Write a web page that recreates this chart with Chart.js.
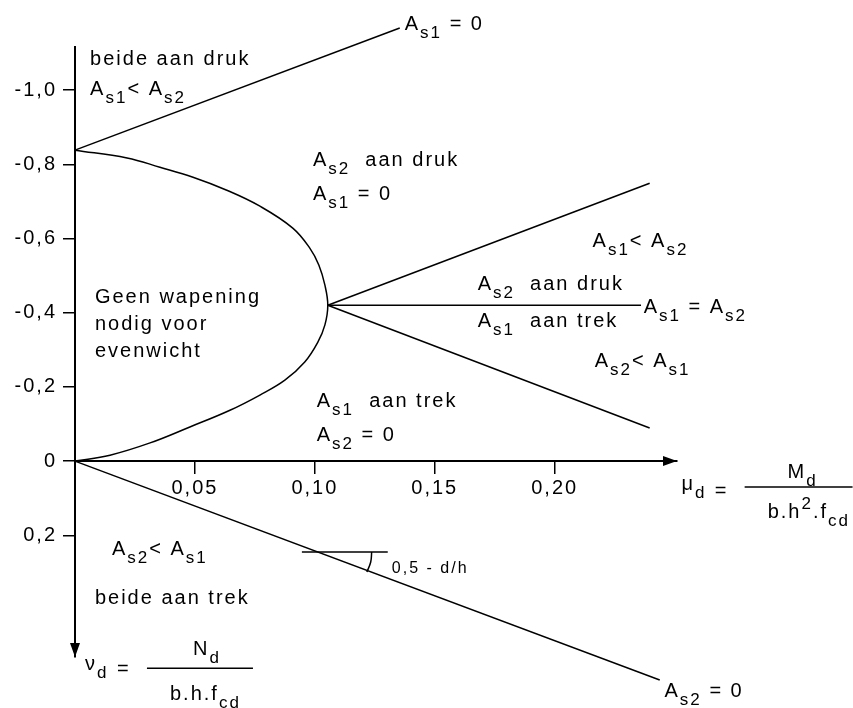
<!DOCTYPE html>
<html>
<head>
<meta charset="utf-8">
<script src="https://cdn.jsdelivr.net/npm/chart.js@4.4.1/dist/chart.umd.min.js"></script>
<style>
  body { margin: 0; background: #fff; }
  canvas { display: block; }
</style>
</head>
<body>
<canvas id="myChart" width="853" height="708"></canvas>
<script>
// mu_d horizontaal, nu_d verticaal (druk negatief, naar boven)
const xTicks = [0.05, 0.10, 0.15, 0.20];
const yTicks = [-1.0, -0.8, -0.6, -0.4, -0.2, 0, 0.2];

// grens van het gebied "geen wapening nodig"
const curveMu = [0, 0.0146, 0.0313, 0.0479, 0.0646, 0.0771, 0.0875, 0.0958, 0.1013, 0.1042, 0.1054,
  0.1042, 0.1017, 0.0979, 0.0908, 0.0771, 0.0633, 0.0492, 0.0354, 0.0217, 0];
const curveNu = [0, -0.016, -0.049, -0.092, -0.137, -0.178, -0.218, -0.267, -0.321, -0.367, -0.42,
  -0.474, -0.528, -0.574, -0.628, -0.687, -0.730, -0.765, -0.792, -0.817, -0.838];

// rechte grenslijnen
const as1ZeroMu = [0, 0.1354];
const as1ZeroNu = [-0.838, -1.167];
const upperMu = [0.1054, 0.2396];
const upperNu = [-0.42, -0.749];
const equalMu = [0.1054, 0.236];
const equalNu = [-0.42, -0.42];
const lowerMu = [0.1054, 0.2396];
const lowerNu = [-0.42, -0.089];
const as2ZeroMu = [0, 0.2438];
const as2ZeroNu = [0, 0.590];

// hellingsdriehoekje 0,5 - d/h
const slopeMu = [0.0946, 0.1304];
const slopeNu = [0.245, 0.245];
const arcMu = [0.1237, 0.1233, 0.1217];
const arcNu = [0.245, 0.272, 0.299];

const FONT = '"Liberation Sans", Arial, sans-serif';

function toPoints(mu, nu) {
  return mu.map((m, i) => ({ x: m, y: nu[i] }));
}

function line(mu, nu, tension) {
  return {
    data: toPoints(mu, nu),
    showLine: true,
    borderColor: "#000",
    borderWidth: 1.5,
    pointRadius: 0,
    tension: tension || 0,
    clip: false,
  };
}

function fmt(v, d) {
  if (v === 0) return "0";
  return v.toFixed(d).replace(".", ",");
}

const As = (n) => [["A"], ["s" + n, "sub"]];

const notes = [
  { mu: 0.0063, nu: -1.067, parts: [["beide aan druk"]] },
  { mu: 0.0063, nu: -0.987, parts: [...As(1), ["< A"], ["s2", "sub"]] },
  { mu: 0.1375, nu: -1.162, parts: [...As(1), [" = 0"]] },
  { mu: 0.0992, nu: -0.795, parts: [...As(2), ["  aan druk"]] },
  { mu: 0.0992, nu: -0.703, parts: [...As(1), [" = 0"]] },
  { mu: 0.2158, nu: -0.577, parts: [...As(1), ["< A"], ["s2", "sub"]] },
  { mu: 0.1679, nu: -0.461, parts: [...As(2), ["  aan druk"]] },
  { mu: 0.1679, nu: -0.361, parts: [...As(1), ["  aan trek"]] },
  { mu: 0.2371, nu: -0.399, parts: [...As(1), [" = A"], ["s2", "sub"]] },
  { mu: 0.2167, nu: -0.253, parts: [...As(2), ["< A"], ["s1", "sub"]] },
  { mu: 0.0083, nu: -0.426, parts: [["Geen wapening"]] },
  { mu: 0.0083, nu: -0.353, parts: [["nodig voor"]] },
  { mu: 0.0083, nu: -0.280, parts: [["evenwicht"]] },
  { mu: 0.1008, nu: -0.146, parts: [...As(1), ["  aan trek"]] },
  { mu: 0.1008, nu: -0.054, parts: [...As(2), [" = 0"]] },
  { mu: 0.0154, nu: 0.253, parts: [...As(2), ["< A"], ["s1", "sub"]] },
  { mu: 0.0083, nu: 0.385, parts: [["beide aan trek"]] },
  { mu: 0.2458, nu: 0.636, parts: [...As(2), [" = 0"]] },
  { mu: 0.1321, nu: 0.302, parts: [["0,5 - d/h"]], size: 16 },
  // nu_d = N_d / b.h.f_cd
  { mu: 0.0042, nu: 0.563, parts: [["ν"], ["d", "sub"]] },
  { mu: 0.0175, nu: 0.577, parts: [["="]] },
  { mu: 0.0492, nu: 0.523, parts: [["N"], ["d", "sub"]] },
  { mu: 0.0396, nu: 0.644, parts: [["b.h.f"], ["cd", "sub"]] },
  // mu_d = M_d / b.h2.f_cd
  { mu: 0.2529, nu: 0.078, parts: [["μ"], ["d", "sub"]] },
  { mu: 0.2667, nu: 0.097, parts: [["="]] },
  { mu: 0.2971, nu: 0.046, parts: [["M"], ["d", "sub"]] },
  { mu: 0.2888, nu: 0.154, parts: [["b.h"], ["2", "sup"], [".f"], ["cd", "sub"]] },
];

// breukstrepen
const bars = [
  { from: 0.030, to: 0.0742, nu: 0.558 },
  { from: 0.2792, to: 0.3242, nu: 0.070 },
];

function drawRich(ctx, x, y, parts, size) {
  for (const [text, mode] of parts) {
    const s = mode ? Math.round(size * 0.85) : size;
    const dy = mode === "sub" ? size * 0.4 : mode === "sup" ? -size * 0.45 : 0;
    ctx.font = s + "px " + FONT;
    ctx.fillText(text, x, y + dy);
    x += ctx.measureText(text).width;
  }
}

const notesPlugin = {
  id: "notes",
  beforeDraw(chart) {
    chart.ctx.letterSpacing = "2px";
  },
  afterDraw(chart) {
    const { ctx, scales: { x, y } } = chart;
    ctx.save();
    ctx.fillStyle = "#000";
    ctx.strokeStyle = "#000";
    ctx.textAlign = "left";
    ctx.textBaseline = "alphabetic";
    for (const n of notes) {
      drawRich(ctx, x.getPixelForValue(n.mu), y.getPixelForValue(n.nu), n.parts, n.size || 20);
    }

    ctx.lineWidth = 1.5;
    for (const b of bars) {
      const py = y.getPixelForValue(b.nu);
      ctx.beginPath();
      ctx.moveTo(x.getPixelForValue(b.from), py);
      ctx.lineTo(x.getPixelForValue(b.to), py);
      ctx.stroke();
    }

    // pijlpunten op de assen
    const x0 = x.getPixelForValue(0);
    const y0 = y.getPixelForValue(0);
    ctx.beginPath();
    ctx.moveTo(x.right, y0);
    ctx.lineTo(x.right - 14, y0 - 5);
    ctx.lineTo(x.right - 14, y0 + 5);
    ctx.closePath();
    ctx.fill();
    ctx.beginPath();
    ctx.moveTo(x0, y.bottom);
    ctx.lineTo(x0 - 5, y.bottom - 14);
    ctx.lineTo(x0 + 5, y.bottom - 14);
    ctx.closePath();
    ctx.fill();
    ctx.restore();
  },
};

const config = {
  type: "scatter",
  data: {
    datasets: [
      line(curveMu, curveNu, 0.4),
      line(as1ZeroMu, as1ZeroNu),
      line(upperMu, upperNu),
      line(equalMu, equalNu),
      line(lowerMu, lowerNu),
      line(as2ZeroMu, as2ZeroNu),
      line(slopeMu, slopeNu),
      line(arcMu, arcNu, 0.4),
    ],
  },
  options: {
    responsive: false,
    animation: false,
    devicePixelRatio: 1,
    layout: { padding: { left: 0, right: 176, top: 47, bottom: 51 } },
    plugins: { legend: { display: false }, tooltip: { enabled: false } },
    scales: {
      x: {
        type: "linear",
        min: 0,
        max: 0.251,
        position: { y: 0 },
        afterBuildTicks: (s) => { s.ticks = xTicks.map((v) => ({ value: v })); },
        grid: { drawOnChartArea: false, drawTicks: true, tickLength: 12, color: "#000", lineWidth: 1.5 },
        border: { display: true, color: "#000", width: 2 },
        ticks: {
          color: "#000",
          font: { family: FONT, size: 20 },
          padding: 3,
          maxRotation: 0,
          autoSkip: false,
          callback: (v) => fmt(v, 2),
        },
      },
      y: {
        type: "linear",
        min: -1.116,
        max: 0.528,
        reverse: true,
        position: "left",
        afterFit: (s) => { s.width = 75; },
        afterBuildTicks: (s) => { s.ticks = yTicks.map((v) => ({ value: v })); },
        grid: { drawOnChartArea: false, drawTicks: true, tickLength: 12, color: "#000", lineWidth: 1.5 },
        border: { display: true, color: "#000", width: 2 },
        ticks: {
          color: "#000",
          font: { family: FONT, size: 20 },
          padding: 6,
          autoSkip: false,
          callback: (v) => fmt(v, 1),
        },
      },
    },
  },
  plugins: [notesPlugin],
};

const myChart = new Chart(document.getElementById("myChart"), config);
</script>
</body>
</html>
